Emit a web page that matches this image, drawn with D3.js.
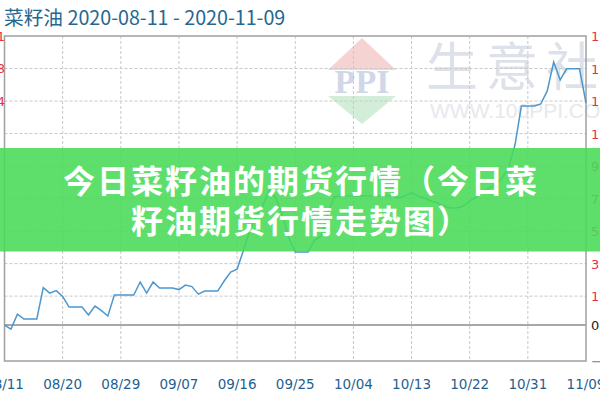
<!DOCTYPE html>
<html><head><meta charset="utf-8">
<script src="https://cdn.jsdelivr.net/npm/d3@7/dist/d3.min.js"></script>
<style>html,body{margin:0;padding:0;background:#fff;overflow:hidden}</style>
</head><body><svg id="c" width="600" height="400"></svg>
<script>
const titleText = "菜籽油 2020-08-11 - 2020-11-09";
const startDate = "2020-08-11";
const endDate = "2020-11-09";
// daily prices (yuan/ton), one per calendar day from startDate
const prices = [9671,9647,9736,9707,9707,9707,9894,9861,9876,9841,
 9778,9778,9778,9731,9784,9757,9725,9850,9850,9850,
 9850,9927,9861,9927,9891,9891,9891,9882,9909,9900,
 9855,9873,9873,9873,9933,9986,10004,10117,10236,10326,
 10385,10474,10427,10326,10189,10105,10105,10105,10177,10201,
 10326,10433,10439,10439,10439,10439,10439,10439,10439,10439,
 10439,10427,10439,10457,10439,10427,10409,10397,10379,10367,
 10367,10379,10409,10433,10463,10486,10504,10546,10605,10742,
 10974,10974,10974,10986,11064,11236,11129,11195,11195,11195,10992];
const xTickLabels = ["08/11","08/20","08/29","09/07","09/16","09/25","10/04","10/13","10/22","10/31","11/09"];
const pctTicks = [-2.21,0,1.78,3.78,5.78,7.78,9.78,11.78,13.78,15.78,17.78];
const leftTickPrices = [11391,11198,11004];
const bannerLines = ["今日菜籽油的期货行情（今日菜","籽油期货行情走势图）"];
const watermarkText = ["生","意","社"];
const watermarkUrl = "WWW.100PPI.COM";

const svg = d3.select("#c");
const L = 4.5, R = 586, T = 36, B = 361;
const parse = d3.timeParse("%Y-%m-%d");
const d0 = parse(startDate), d1 = parse(endDate);
const x = d3.scaleTime().domain([d0, d1]).range([L, R]);
const y = d3.scaleLinear().domain([-2.21, 17.78]).range([B, T]);
const P0 = prices[0];
const data = prices.map((p,i)=>({date:d3.timeDay.offset(d0,i), pct:(p/P0-1)*100}));

// watermark
const wm = svg.append("g");
wm.append("path").attr("d","M362,38 L396,70 L328,70 Z").attr("fill","#f6d3d3");
wm.append("path").attr("d","M328,96 L396,96 L362,124 Z").attr("fill","#d3eed8");
wm.append("text").attr("x",362).attr("y",93).attr("text-anchor","middle")
  .attr("font-family","Liberation Serif").attr("font-weight","bold").attr("font-size",34)
  .attr("fill","#cfd7e8").text("PPI");
wm.selectAll("text.wm").data(watermarkText).join("text").attr("class","wm")
  .attr("x",(d,i)=>452+i*60).attr("y",86).attr("text-anchor","middle")
  .attr("font-family","Noto Sans CJK SC").attr("font-size",52).attr("fill","#dde2ea").text(d=>d);
wm.append("text").attr("x",430).attr("y",118).attr("font-family","Liberation Sans")
  .attr("font-size",21).attr("fill","#e6e9ee").text(watermarkUrl);

// grid
const tickDates = xTickLabels.map((_,i)=>d3.timeDay.offset(d0,i*9));
svg.append("g").selectAll("line").data(tickDates.slice(1,-1)).join("line")
  .attr("x1",d=>x(d)).attr("x2",d=>x(d)).attr("y1",T).attr("y2",B)
  .attr("stroke","#c8c8c8").attr("stroke-dasharray","3,2");
svg.append("g").selectAll("line").data(pctTicks.filter(v=>v!==0 && v>-2 && v<17)).join("line")
  .attr("x1",L).attr("x2",R).attr("y1",d=>y(d)).attr("y2",d=>y(d))
  .attr("stroke","#c8c8c8").attr("stroke-dasharray","3,2");
// zero line
svg.append("line").attr("x1",L).attr("x2",R).attr("y1",y(0)).attr("y2",y(0))
  .attr("stroke","#a8a8a8").attr("stroke-width",2);
// frame
svg.append("rect").attr("x",L).attr("y",T).attr("width",R-L).attr("height",B-T)
  .attr("fill","none").attr("stroke","#a0a0a0").attr("stroke-width",1.5);

// line
svg.append("path").datum(data).attr("fill","none").attr("stroke","#4d97cf").attr("stroke-width",1.5)
  .attr("d",d3.line().x(d=>x(d.date)).y(d=>y(d.pct)));

// x axis labels
svg.append("g").selectAll("text").data(xTickLabels).join("text")
  .attr("x",(d,i)=>x(tickDates[i])).attr("y",389).attr("text-anchor","middle")
  .attr("font-family","DejaVu Sans").attr("font-size",13.5).attr("fill","#1f5f8f").text(d=>d);

// right labels
svg.append("g").selectAll("text").data(pctTicks).join("text")
  .attr("x",591).attr("y",d=>y(d)+5).attr("font-family","DejaVu Sans").attr("font-size",13)
  .attr("fill",d=>d>0?"#e8323f":(d<0?"#3aa64a":"#222"))
  .text(d=>d===0?"0":d3.format(".2f")(d)+"%");
// left labels
svg.append("g").selectAll("text").data(leftTickPrices).join("text")
  .attr("x",5).attr("y",d=>y((d/P0-1)*100)+5).attr("text-anchor","end")
  .attr("font-family","DejaVu Sans").attr("font-size",13).attr("fill","#e8323f").text(d=>d);

// title
svg.append("text").attr("x",4).attr("y",25).attr("font-family","Noto Sans CJK SC")
  .attr("font-size",19.7).attr("fill","#25678f").text(titleText);

// banner
svg.append("rect").attr("x",0).attr("y",148).attr("width",600).attr("height",103.5)
  .attr("fill","rgb(72,219,88)").attr("opacity",0.88);
svg.append("g").selectAll("text").data(bannerLines).join("text")
  .attr("x",301).attr("y",(d,i)=>193+i*39.5).attr("text-anchor","middle")
  .attr("font-family","Noto Sans CJK SC").attr("font-weight","bold").attr("font-size",32)
  .attr("letter-spacing",2).attr("fill","#fff").text(d=>d);
</script></body></html>
